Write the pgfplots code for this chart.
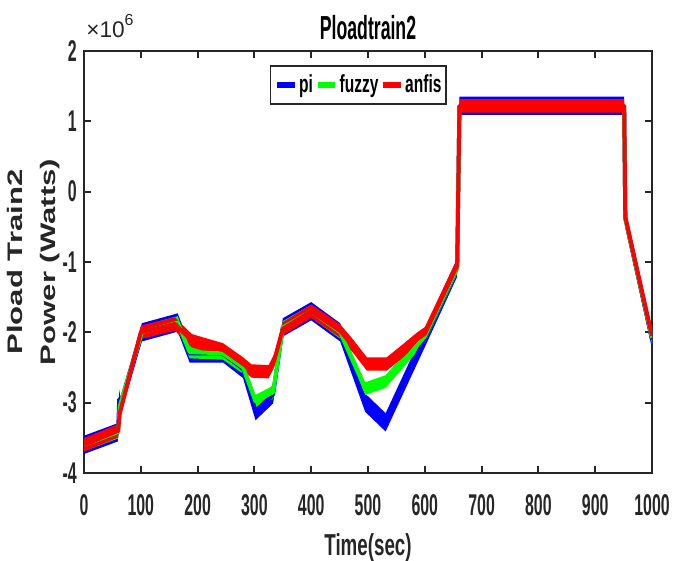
\documentclass[border=0pt]{standalone}
\usepackage{pgfplots}
\pgfplotsset{compat=1.18}
\usepgfplotslibrary{fillbetween}
\usepackage{pgfplotstable}
\usepackage{fontspec}
\setmainfont{Liberation Sans}
\newfontfamily\cfa{Liberation Sans}[FakeStretch=0.53]
\newfontfamily\cfb{Liberation Sans}[FakeStretch=0.62]
\newfontfamily\cfl{Liberation Sans}[FakeStretch=0.63]
\newfontfamily\cfy{Liberation Sans}[FakeStretch=1.48]
\definecolor{mblue}{RGB}{0,0,255}
\definecolor{mgreen}{RGB}{0,255,0}
\definecolor{mred}{RGB}{255,0,0}
\definecolor{axgray}{gray}{0.15}

\pgfplotstableread{
t v
0 -3.60
60 -3.42
62 -2.95
64 -3.05
102 -2.00
165 -1.86
186 -2.30
245 -2.30
280 -2.52
302 -3.12
333 -2.88
350 -1.93
400 -1.70
451 -2.00
495 -3.00
531 -3.28
600 -2.08
657 -1.08
661 1.22
951 1.22
953 -0.38
1000 -2.10
}\pidata

\pgfplotstableread{
t v
0 -3.60
60 -3.42
63 -3.05
102 -2.00
165 -1.86
186 -2.28
245 -2.30
280 -2.50
302 -2.98
333 -2.85
350 -1.93
400 -1.70
451 -2.00
495 -2.80
531 -2.70
600 -2.06
657 -1.08
661 1.22
951 1.22
953 -0.38
1000 -2.08
}\fuzzydata

\pgfplotstableread{
t v
0 -3.60
60 -3.40
63 -3.15
100 -2.00
160 -1.88
172 -1.98
190 -2.12
245 -2.25
280 -2.45
295 -2.55
325 -2.56
335 -2.40
350 -1.95
400 -1.70
451 -1.98
474 -2.20
498 -2.45
533 -2.45
556 -2.30
586 -2.10
600 -2.02
657 -1.05
661 1.22
951 1.22
953 -0.36
1000 -2.05
}\anfisdata

\begin{document}
\begin{tikzpicture}
\begin{axis}[
  scale only axis, width=426pt, height=316.5pt,
  xmin=0, xmax=1000, ymin=-4, ymax=2,
  xtick={0,100,...,1000}, ytick={-4,-3,...,2},
  xticklabels={0,100,200,300,400,500,600,700,800,900,1000},
  yticklabels={-4,-3,-2,-1,0,1,2},
  tick align=inside, major tick length=5pt,
  axis line style={axgray, line width=1.5pt},
  every tick/.style={axgray, line width=1.5pt},
  xticklabel style={font=\cfa\bfseries\fontsize{22.5}{22.5}\selectfont, inner sep=0pt, anchor=north, yshift=-15.75pt, text=axgray},
  yticklabel style={font=\cfa\bfseries\fontsize{22.5}{22.5}\selectfont, inner sep=0pt, anchor=east, xshift=-5.25pt, text=axgray},
  legend columns=3,
  legend style={at={(0.483,0.967)}, anchor=north, draw=axgray, line width=1.2pt,
    font=\cfl\bfseries\fontsize{18.5}{18.5}\selectfont, inner xsep=2.5pt, inner ysep=6pt,
    /tikz/every even column/.append style={column sep=0pt},
    /tikz/every odd column/.append style={column sep=0pt},
    nodes={inner xsep=1pt, inner ysep=1pt}},
  legend image code/.code={\draw[#1, line width=5pt] (0pt,0pt) -- (13pt,0pt);},
]
\coordinate (SW) at (rel axis cs:0,0);
\coordinate (NE) at (rel axis cs:1,1);
\coordinate (T) at (rel axis cs:0.5,1);
\coordinate (B) at (rel axis cs:0.5,0);
\coordinate (L) at (rel axis cs:0,0.5);
\coordinate (TL) at (rel axis cs:0,1);

\addlegendimage{mblue}\addlegendentry{pi}
\addlegendimage{mgreen}\addlegendentry{fuzzy}
\addlegendimage{mred}\addlegendentry{anfis}

% pi
\addplot[draw=none, name path=pu, forget plot] table[x=t, y expr=\thisrow{v}+0.13] {\pidata};
\addplot[draw=none, name path=pl, forget plot] table[x=t, y expr=\thisrow{v}-0.13] {\pidata};
\addplot[mblue, forget plot] fill between[of=pu and pl];
\addplot[mblue, line width=3pt, line join=round, forget plot] table[x=t, y=v] {\pidata};
% fuzzy
\addplot[draw=none, name path=fu, forget plot] table[x=t, y expr=\thisrow{v}+0.09] {\fuzzydata};
\addplot[draw=none, name path=fl, forget plot] table[x=t, y expr=\thisrow{v}-0.09] {\fuzzydata};
\addplot[mgreen, forget plot] fill between[of=fu and fl];
\addplot[mgreen, line width=3pt, line join=round, forget plot] table[x=t, y=v] {\fuzzydata};
% anfis
\addplot[draw=none, name path=au, forget plot] table[x=t, y expr=\thisrow{v}+0.095] {\anfisdata};
\addplot[draw=none, name path=al, forget plot] table[x=t, y expr=\thisrow{v}-0.095] {\anfisdata};
\addplot[mred, forget plot] fill between[of=au and al];
\addplot[mred, line width=3pt, line join=round, forget plot] table[x=t, y=v] {\anfisdata};
\end{axis}

\node[anchor=base, inner sep=0pt, font=\cfa\bfseries\fontsize{25}{25}\selectfont] at ([yshift=8.25pt]T) {Ploadtrain2};
\node[anchor=base, inner sep=0pt, font=\cfb\bfseries\fontsize{22.7}{22.7}\selectfont, text=axgray] at ([yshift=-61.5pt]B) {Time(sec)};
\node[rotate=90, anchor=south, align=center, inner sep=0pt, font=\cfy\bfseries\fontsize{15.75}{25}\selectfont, text=axgray] at ([xshift=-18pt]L) {Pload Train2\\Power (Watts)};
\node[anchor=base west, inner sep=0pt, font=\fontsize{17}{17}\selectfont, text=axgray] at ([xshift=1.5pt,yshift=9.75pt]TL) {×10\raisebox{0.55em}{\fontsize{12}{12}\selectfont 6}};

\pgfresetboundingbox
\useasboundingbox ([shift={(-63pt,-65.25pt)}]SW) rectangle ([shift={(15.75pt,38.25pt)}]NE);
\end{tikzpicture}
\end{document}
